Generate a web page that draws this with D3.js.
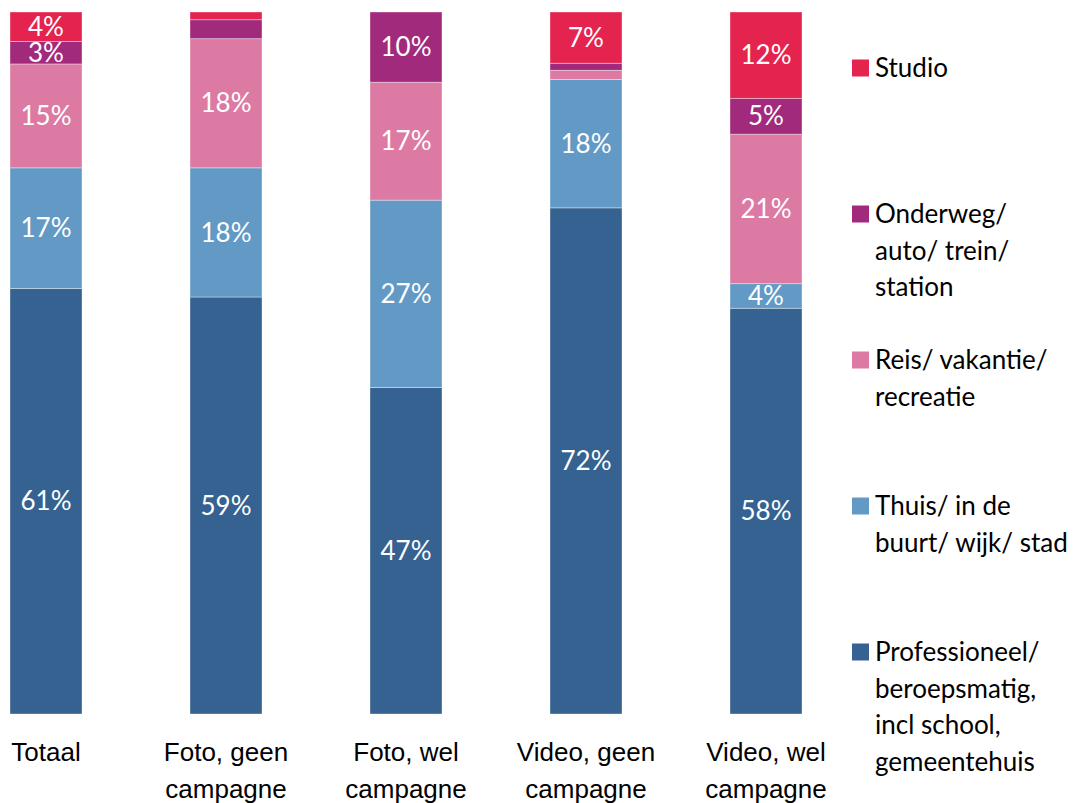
<!DOCTYPE html>
<html>
<head>
<meta charset="utf-8">
<script src="https://cdn.jsdelivr.net/npm/d3@7/dist/d3.min.js"></script>
<style>
  html, body { margin: 0; padding: 0; background: #ffffff; }
  svg { display: block; font-family: Lato, "Open Sans", sans-serif; }
</style>
</head>
<body>
<svg id="chart" width="1081" height="803"></svg>
<script>
// Categories along the x axis (line breaks marked with \n)
const categories = ["Totaal", "Foto, geen\ncampagne", "Foto, wel\ncampagne", "Video, geen\ncampagne", "Video, wel\ncampagne"];

// Series, bottom to top of each stack (percentages)
const seriesNames = ["Professioneel", "Thuis", "Reis", "Onderweg", "Studio"];
const professioneel = [60.6, 59.4, 46.5, 72.1, 57.8];
const thuis         = [17.2, 18.4, 26.7, 18.3, 3.5];
const reis          = [14.8, 18.4, 16.8, 1.3, 21.3];
const onderweg      = [3.2, 2.7, 10.0, 1.0, 5.1];
const studio        = [4.2, 1.1, 0.0, 7.3, 12.3];

// Legend labels, top to bottom
const legendLabels = [
  ["Studio"],
  ["Onderweg/", "auto/ trein/", "station"],
  ["Reis/ vakantie/", "recreatie"],
  ["Thuis/ in de", "buurt/ wijk/ stad"],
  ["Professioneel/", "beroepsmatig,", "incl school,", "gemeentehuis"]
];

const colors = {
  Professioneel: "#356291",
  Thuis: "#6399c5",
  Reis: "#dd7aa4",
  Onderweg: "#a12a7c",
  Studio: "#e4244f"
};

const seriesValues = { Professioneel: professioneel, Thuis: thuis, Reis: reis, Onderweg: onderweg, Studio: studio };
const rows = categories.map((c, i) => {
  const r = { category: c };
  seriesNames.forEach(s => { r[s] = seriesValues[s][i]; });
  return r;
});

const svg = d3.select("#chart");
const fontSize = 26;
const lineH = 36.5;

const x = d3.scaleBand().domain(categories).range([10, 802]).paddingInner(0.6).paddingOuter(0);
const y = d3.scaleLinear().domain([0, 100]).range([714, 12]);

const stacked = d3.stack().keys(seriesNames)(rows);

// Stacked bars
const layer = svg.append("g").selectAll("g")
  .data(stacked)
  .join("g")
  .attr("fill", d => colors[d.key]);

layer.selectAll("rect")
  .data(d => d.map(p => ({ key: d.key, p })))
  .join("rect")
  .attr("x", d => x(d.p.data.category))
  .attr("width", x.bandwidth())
  .attr("y", d => y(d.p[1]))
  .attr("height", d => Math.max(0, y(d.p[0]) - y(d.p[1])))
  .attr("stroke", "#ffffff")
  .attr("stroke-opacity", 0.45)
  .attr("stroke-width", 0.8);

// Value labels inside segments
const labels = svg.append("g")
  .attr("fill", "#ffffff")
  .attr("font-size", fontSize)
  .attr("text-anchor", "middle");

stacked.forEach(s => {
  s.forEach(p => {
    const v = p.data[s.key];
    if (v < 3) return;
    labels.append("text")
      .attr("x", x(p.data.category) + x.bandwidth() / 2)
      .attr("y", (y(p[0]) + y(p[1])) / 2)
      .attr("dy", "0.35em")
      .text(Math.round(v) + "%");
  });
});

// X axis with two-line category labels
const xAxis = svg.append("g")
  .attr("transform", "translate(0,714)")
  .call(d3.axisBottom(x).tickSize(0).tickFormat(""));
xAxis.select(".domain").remove();

xAxis.selectAll(".tick").each(function(d) {
  const t = d3.select(this).append("text")
    .attr("fill", "#000000")
    .attr("font-size", fontSize)
    .attr("text-anchor", "middle")
    .attr("y", 38)
    .attr("dy", "0.35em");
  d.split("\n").forEach((line, i) => {
    t.append("tspan").attr("x", 0).attr("dy", i === 0 ? "0.35em" : lineH).text(line);
  });
});

// Legend
const legendKeys = ["Studio", "Onderweg", "Reis", "Thuis", "Professioneel"];
const legend = svg.append("g").attr("transform", "translate(852,0)");
legendKeys.forEach((k, i) => {
  const cy = 68 + i * 146;
  const g = legend.append("g").attr("transform", `translate(0,${cy})`);
  g.append("rect")
    .attr("x", 0).attr("y", -8.5)
    .attr("width", 17).attr("height", 17)
    .attr("fill", colors[k]);
  const t = g.append("text")
    .attr("x", 23)
    .attr("font-size", fontSize)
    .attr("fill", "#000000");
  legendLabels[i].forEach((line, j) => {
    t.append("tspan").attr("x", 23).attr("y", j * lineH).attr("dy", "0.35em").text(line);
  });
});
</script>
</body>
</html>
